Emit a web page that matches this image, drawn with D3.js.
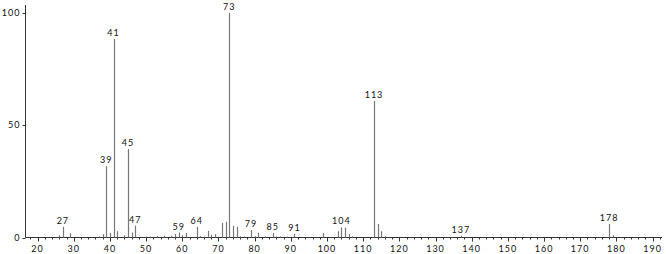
<!DOCTYPE html>
<html>
<head>
<meta charset="utf-8">
<script src="https://cdn.jsdelivr.net/npm/d3@7"></script>
<style>
  html, body { margin: 0; padding: 0; background: #fff; }
  svg { display: block; }
  text { font-family: "Lato", "DejaVu Sans", sans-serif; fill: #111; }
</style>
</head>
<body>
<div id="chart"></div>
<script>
// m/z values and relative intensities
const mz        = [26, 27, 29, 37, 38, 39, 40, 41, 42, 44, 45, 46, 47, 50, 51, 53, 55, 57, 58, 59, 60, 61,
                   64, 65, 66, 67, 68, 69, 71, 72, 73, 74, 75, 76, 77, 79, 80, 81, 83, 85, 86, 87, 89, 91,
                   99, 103, 104, 105, 106, 107, 113, 114, 115, 116, 137, 178, 179];
const intensity = [1, 4.8, 1.9, 0.5, 1.5, 31.8, 2.1, 88.4, 2.8, 1, 39.4, 2.2, 5.3, 0.4, 0.4, 0.6, 0.8, 0.8, 1.5, 2.2, 1, 2,
                   4.7, 0.6, 0.4, 2.9, 1.2, 1.5, 6.5, 7, 100, 5.2, 4.8, 0.5, 0.5, 3.3, 0.6, 2.1, 0.5, 2, 0.5, 0.5, 0.4, 1.6,
                   2, 2.8, 4.5, 4.4, 1.5, 0.5, 60.8, 6, 2.8, 0.5, 0.8, 6, 1];
const labeled   = [27, 39, 41, 45, 47, 59, 64, 73, 79, 85, 91, 104, 113, 137, 178];
const yTicks    = [0, 50, 100];

const width = 666, height = 254;
const x = d3.scaleLinear().domain([45, 113]).range([128, 374]);
const y = d3.scaleLinear().domain([0, 100]).range([237.5, 13]);
const x0 = 25.5, x1 = 662;

const svg = d3.select("#chart").append("svg")
    .attr("width", width)
    .attr("height", height);

// x axis: minor ticks every 2, labels every 10
const xAxis = svg.append("g").attr("transform", `translate(0,${y(0)})`);
xAxis.append("line")
    .attr("x1", x0).attr("x2", x1)
    .attr("stroke", "#333").attr("stroke-width", 1);
const minor = d3.range(18, 193, 2);
xAxis.selectAll("line.tick")
    .data(minor)
    .join("line")
    .attr("class", "tick")
    .attr("x1", d => Math.round(x(d)) + 0.5)
    .attr("x2", d => Math.round(x(d)) + 0.5)
    .attr("y1", 0)
    .attr("y2", d => d % 10 === 0 ? 4 : 2)
    .attr("stroke", "#333");
xAxis.selectAll("text")
    .data(d3.range(20, 191, 10))
    .join("text")
    .attr("x", d => x(d))
    .attr("y", 14)
    .attr("text-anchor", "middle")
    .attr("font-size", 9)
    .attr("letter-spacing", 1)
    .text(d => d);

// y axis
const yAxis = svg.append("g").attr("transform", `translate(${x0},0)`);
yAxis.append("line")
    .attr("y1", 5).attr("y2", y(0))
    .attr("stroke", "#333");
yAxis.selectAll("line.tick")
    .data(yTicks)
    .join("line")
    .attr("class", "tick")
    .attr("x1", -3).attr("x2", 0)
    .attr("y1", d => Math.round(y(d)) + 0.5)
    .attr("y2", d => Math.round(y(d)) + 0.5)
    .attr("stroke", "#333");
yAxis.selectAll("text")
    .data(yTicks)
    .join("text")
    .attr("x", -5)
    .attr("y", d => y(d))
    .attr("dy", "0.35em")
    .attr("text-anchor", "end")
    .attr("font-size", 9)
    .attr("letter-spacing", 1)
    .text(d => d);

// peaks
const peaks = mz.map((m, i) => ({ m, v: intensity[i] }));
svg.append("g")
    .selectAll("line")
    .data(peaks)
    .join("line")
    .attr("x1", d => Math.round(x(d.m)) + 0.5)
    .attr("x2", d => Math.round(x(d.m)) + 0.5)
    .attr("y1", y(0))
    .attr("y2", d => y(d.v))
    .attr("stroke", "#777")
    .attr("stroke-width", 1.2);

// peak labels
svg.append("g")
    .selectAll("text")
    .data(peaks.filter(d => labeled.includes(d.m)))
    .join("text")
    .attr("x", d => x(d.m))
    .attr("y", d => y(d.v) - 3)
    .attr("text-anchor", "middle")
    .attr("font-size", 9)
    .attr("letter-spacing", 1)
    .text(d => d.m);
</script>
</body>
</html>
